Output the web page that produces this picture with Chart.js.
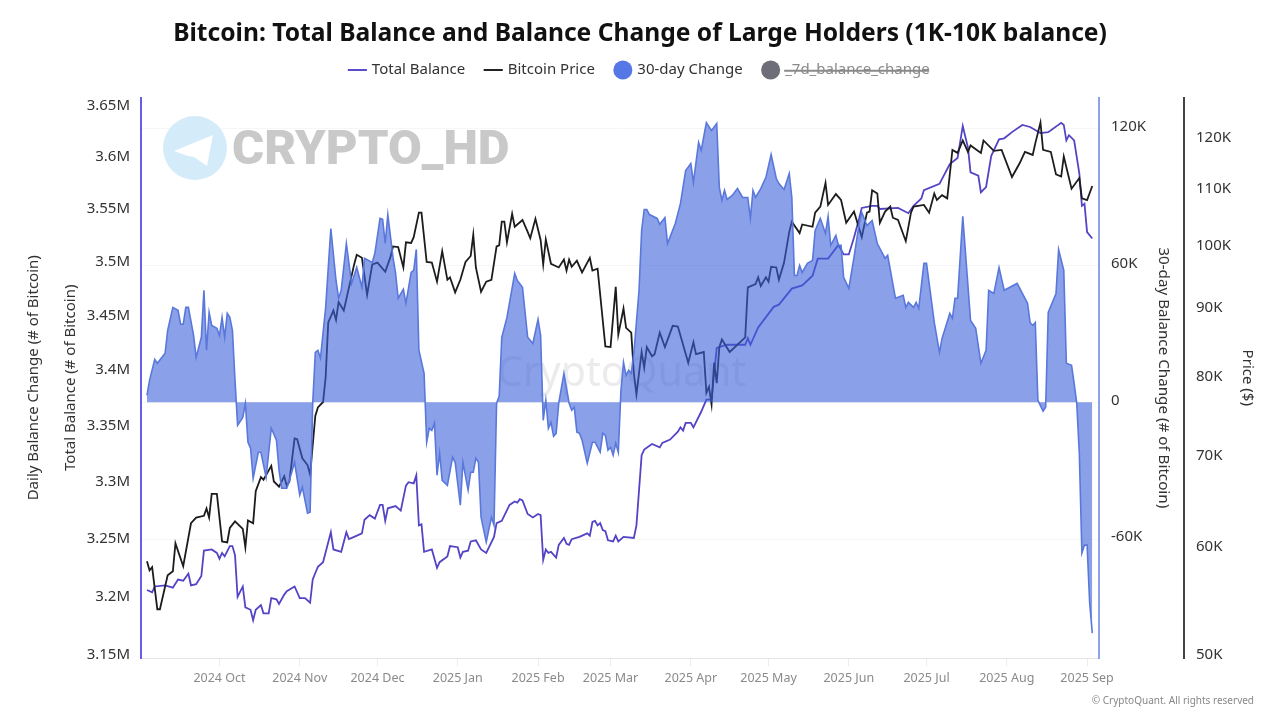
<!DOCTYPE html>
<html>
<head>
<meta charset="utf-8">
<title>Bitcoin: Total Balance and Balance Change of Large Holders</title>
<script src="https://cdn.jsdelivr.net/npm/chart.js@4"></script>
<style>
    body { margin: 0; background: #ffffff; }
    canvas { display: block; }
</style>
</head>
<body>
<canvas id="chart" width="1280" height="720"></canvas>
<script>
// x values are days counted from 2024-09-01

const monthDays = [30, 61, 91, 122, 153, 181, 212, 242, 273, 303, 334, 365];
const monthLabels = ['2024 Oct', '2024 Nov', '2024 Dec', '2025 Jan', '2025 Feb', '2025 Mar', '2025 Apr', '2025 May', '2025 Jun', '2025 Jul', '2025 Aug', '2025 Sep'];

const balanceTicks = [3.15, 3.2, 3.25, 3.3, 3.35, 3.4, 3.45, 3.5, 3.55, 3.6, 3.65];
const changeTicks = [-60, 0, 60, 120];
const priceTicks = [50, 60, 70, 80, 90, 100, 110, 120];

// Total Balance, millions of BTC
const balanceDays = [2, 4, 5, 9, 12, 14, 16, 18, 19, 21, 23, 24, 27, 29, 30, 31, 32, 34, 35, 36, 37, 39, 40, 42, 43, 44, 46, 47, 49, 50, 52, 53, 55, 56, 59, 61, 63, 65, 66, 68, 70, 73, 74, 77, 79, 80, 82, 85, 86, 88, 90, 92, 93, 94, 95, 98, 100, 102, 103, 105, 106, 107, 108, 109, 112, 114, 115, 118, 119, 122, 123, 124, 126, 127, 129, 131, 133, 136, 137, 139, 142, 144, 145, 146, 147, 149, 151, 153, 154, 155, 156, 157, 158, 160, 161, 163, 164, 165, 166, 169, 172, 173, 174, 175, 176, 177, 178, 179, 180, 182, 183, 184, 186, 190, 191, 193, 194, 197, 200, 201, 204, 207, 208, 209, 210, 212, 213, 216, 218, 220, 222, 226, 233, 234, 235, 238, 244, 246, 251, 255, 259, 261, 265, 269, 271, 273, 275, 277, 278, 282, 284, 285, 292, 296, 298, 301, 302, 308, 312, 315, 317, 319, 320, 323, 324, 326, 328, 331, 333, 336, 340, 343, 347, 350, 355, 356, 357, 358, 360, 362, 363, 364, 365, 367];
const balanceValues = [3.208, 3.206, 3.211, 3.212, 3.21, 3.217, 3.216, 3.222, 3.212, 3.213, 3.22, 3.242, 3.243, 3.24, 3.235, 3.24, 3.237, 3.246, 3.246, 3.238, 3.202, 3.211, 3.193, 3.191, 3.182, 3.191, 3.195, 3.188, 3.188, 3.201, 3.2, 3.196, 3.204, 3.207, 3.211, 3.201, 3.201, 3.197, 3.217, 3.228, 3.232, 3.258, 3.243, 3.241, 3.258, 3.252, 3.254, 3.257, 3.269, 3.273, 3.27, 3.282, 3.282, 3.268, 3.279, 3.281, 3.277, 3.299, 3.302, 3.301, 3.308, 3.264, 3.265, 3.241, 3.243, 3.227, 3.232, 3.237, 3.246, 3.245, 3.236, 3.241, 3.242, 3.25, 3.251, 3.243, 3.24, 3.254, 3.266, 3.268, 3.282, 3.285, 3.284, 3.287, 3.286, 3.274, 3.271, 3.274, 3.273, 3.234, 3.243, 3.24, 3.241, 3.236, 3.247, 3.253, 3.248, 3.247, 3.252, 3.254, 3.257, 3.255, 3.267, 3.268, 3.264, 3.266, 3.26, 3.259, 3.251, 3.25, 3.255, 3.25, 3.254, 3.253, 3.264, 3.326, 3.331, 3.336, 3.333, 3.337, 3.34, 3.347, 3.351, 3.348, 3.355, 3.355, 3.351, 3.365, 3.376, 3.376, 3.423, 3.426, 3.426, 3.432, 3.426, 3.442, 3.461, 3.463, 3.478, 3.481, 3.49, 3.506, 3.506, 3.519, 3.51, 3.51, 3.526, 3.544, 3.554, 3.556, 3.556, 3.553, 3.554, 3.549, 3.556, 3.563, 3.571, 3.577, 3.596, 3.602, 3.633, 3.612, 3.588, 3.585, 3.569, 3.574, 3.604, 3.62, 3.621, 3.627, 3.634, 3.632, 3.626, 3.627, 3.636, 3.634, 3.619, 3.624, 3.619, 3.587, 3.556, 3.558, 3.531, 3.525];

// Bitcoin Price, thousands of USD
const priceDays = [2, 3, 4, 6, 7, 10, 12, 13, 16, 19, 21, 24, 25, 26, 27, 29, 31, 33, 34, 36, 39, 40, 41, 43, 44, 46, 47, 50, 51, 53, 55, 56, 57, 59, 60, 62, 64, 65, 67, 68, 70, 71, 72, 74, 75, 76, 78, 82, 83, 85, 87, 89, 91, 94, 96, 97, 99, 101, 102, 104, 105, 107, 108, 110, 112, 114, 116, 118, 119, 121, 123, 125, 127, 128, 129, 131, 133, 135, 137, 138, 139, 140, 141, 143, 144, 147, 149, 150, 152, 154, 155, 156, 158, 161, 163, 164, 165, 166, 168, 170, 173, 174, 176, 179, 181, 183, 184, 186, 187, 189, 190, 191, 193, 194, 195, 197, 198, 200, 202, 205, 207, 211, 213, 214, 217, 218, 219, 220, 221, 222, 223, 224, 227, 233, 234, 237, 238, 239, 241, 242, 243, 245, 246, 248, 250, 251, 254, 255, 259, 260, 262, 264, 265, 268, 270, 272, 275, 278, 280, 281, 282, 284, 285, 287, 289, 290, 292, 295, 297, 298, 302, 304, 306, 307, 309, 311, 313, 315, 317, 319, 320, 324, 325, 329, 332, 336, 339, 341, 344, 345, 347, 348, 351, 353, 355, 356, 359, 362, 363, 365, 367];
const priceValues = [58.9, 58, 58.3, 54.3, 54.3, 57.5, 57.9, 60.7, 58.4, 62.8, 63.4, 63.6, 64.4, 63.4, 66, 66, 60.9, 60.8, 62.3, 63, 62.2, 60.3, 63.1, 62.8, 66.3, 67.9, 67.6, 69.2, 67.4, 66.8, 68, 66.9, 67.4, 72.5, 72.4, 70.1, 69.3, 68.2, 75.3, 76.4, 77.1, 80.4, 88.2, 90, 88.6, 91.3, 90, 97.3, 98.9, 98.4, 92.4, 97.3, 97.6, 96.1, 98.5, 100.3, 100.2, 96.8, 101, 100.9, 101.9, 106.2, 106.2, 97.7, 97.6, 94.5, 99.5, 94.8, 95.2, 92.8, 94.8, 97.7, 98.7, 102.3, 96.8, 92.9, 94.5, 94.8, 100.3, 100.5, 104.6, 104.6, 101, 106, 103.7, 104.9, 102.8, 101.7, 105.1, 101.4, 97.3, 101.5, 97.4, 96.8, 98.1, 96.3, 98.1, 96.9, 97.9, 96, 98.4, 96.3, 96.6, 84.7, 84.6, 93.7, 86.4, 90.3, 87.4, 86.7, 80.9, 78.1, 83.9, 81.7, 84.6, 83.3, 83.6, 86.7, 84.6, 87.7, 87.6, 82.4, 85.3, 83.6, 83.9, 78.3, 79.1, 76.8, 82.4, 79.6, 84.6, 85.7, 83.9, 86, 93.6, 94.1, 95.2, 93.8, 95.2, 94.5, 96.9, 96.8, 94.8, 97.6, 102.8, 104.6, 102.6, 104.1, 103.7, 106.2, 107.3, 111.7, 107.6, 109.6, 108.5, 104.4, 106.4, 101.9, 106.2, 106.4, 110.3, 109.7, 104.4, 106.4, 107.3, 105.3, 104.9, 101.2, 106.2, 107.3, 107.6, 106.2, 109.7, 108.5, 109.4, 108.8, 118.1, 117.5, 120, 117.7, 119, 117.5, 120, 117.9, 118.1, 112.8, 115.5, 117.7, 117.1, 119.4, 123.7, 118.1, 117.7, 113.3, 112.9, 116.8, 110.6, 112.6, 108.8, 108.5, 111.1];

// 30-day Change, thousands of BTC
const changeDays = [2, 3, 5, 6, 9, 10, 12, 14, 15, 16, 17, 18, 20, 21, 23, 24, 25, 26, 27, 29, 30, 31, 32, 33, 34, 35, 36, 37, 39, 40, 41, 42, 43, 45, 46, 48, 50, 52, 53, 54, 56, 57, 59, 61, 62, 64, 65, 66, 67, 68, 69, 71, 73, 75, 76, 77, 79, 81, 83, 85, 86, 89, 90, 92, 93, 94, 95, 97, 98, 99, 101, 102, 104, 105, 106, 107, 109, 110, 111, 112, 113, 114, 115, 116, 118, 120, 121, 123, 124, 126, 127, 128, 129, 130, 131, 133, 135, 136, 137, 138, 139, 141, 144, 145, 147, 149, 151, 153, 154, 155, 156, 157, 158, 159, 160, 161, 163, 165, 166, 167, 168, 169, 170, 172, 174, 175, 177, 178, 179, 180, 181, 182, 183, 184, 185, 186, 187, 188, 189, 190, 192, 193, 194, 195, 196, 199, 200, 202, 203, 206, 208, 210, 212, 213, 215, 216, 218, 220, 222, 223, 224, 225, 226, 228, 230, 232, 234, 235, 236, 237, 239, 241, 243, 245, 246, 248, 250, 251, 252, 253, 254, 255, 257, 259, 260, 262, 264, 265, 266, 268, 269, 270, 271, 273, 275, 277, 278, 280, 282, 284, 287, 288, 291, 294, 295, 296, 298, 299, 300, 302, 303, 306, 308, 309, 312, 313, 314, 315, 317, 320, 322, 324, 326, 327, 329, 331, 333, 338, 342, 343, 344, 345, 346, 348, 349, 350, 353, 354, 356, 357, 359, 360, 361, 362, 363, 364, 365, 366, 367];
const changeValues = [3, 9.6, 18.8, 17.1, 21.5, 31.5, 41.6, 40.3, 34.2, 34.2, 41.6, 41.6, 29.3, 19.7, 28.5, 49.1, 22.8, 39.4, 33.7, 32.4, 29.3, 37.2, 28.5, 39, 37.2, 31.5, 9.6, -10.1, -6.6, -0.5, -17.5, -20.1, -33.3, -21.9, -21.9, -32.9, -11.4, -16.6, -29.8, -37.7, -37.7, -34.2, -26.3, -40.7, -37.2, -48.6, -48.2, -0.4, 21.9, 22.8, 19.3, 41.6, 76.2, 53.4, 45.6, 49.1, 69.6, 52.1, 59.1, 50.4, 63.1, 61.3, 65.3, 80.6, 80.2, 69.6, 82.3, 63.5, 56.5, 45.6, 49.5, 43.4, 56.9, 57.8, 67, 22.8, 12.7, -17.5, -11.4, -12.3, -9.2, -32, -22.3, -34.2, -36.4, -24.1, -26.3, -45.1, -26.3, -38.5, -30.7, -30.7, -24.5, -26.3, -50.4, -61.3, -50.4, -53.9, -0.4, 2.6, 28.5, 37.2, 56.5, 53.4, 50.4, 28.5, 25.8, 36.4, 29.3, -7.9, 0.9, -11.4, -8.8, -14.9, -13.6, -0.4, 12.7, -0.4, -3.5, -2.2, -13.1, -13.6, -16.6, -26.7, -17.5, -17.5, -21.9, -13.6, -14.5, -21, -19.7, -23.2, -18, -21.9, 5, 17.5, 11.8, 14, 12.7, 21.5, 49.1, 75.3, 84.5, 84.5, 82.3, 80.6, 78, 81, 69.6, 78.4, 87.2, 101.6, 104.7, 96.4, 113.9, 110.4, 122.6, 119.1, 122.2, 94.2, 88.5, 92.9, 88.9, 90.7, 93.7, 89.8, 89.8, 80.6, 92.9, 89.8, 93.7, 98.6, 108.6, 98.1, 95.9, 93.3, 100.3, 89.8, 55.6, 55.6, 60, 56.9, 60.9, 62.2, 75.3, 80.6, 74, 81.5, 68.8, 73.1, 68.8, 68.8, 54.8, 49.9, 63.5, 78.4, 83.2, 77.5, 79.7, 69.6, 63.1, 64.4, 45.6, 46.9, 41.6, 43.8, 41.6, 43.8, 41.2, 60.9, 60.9, 35, 21.9, 28, 39, 36.8, 45.6, 45.6, 81.5, 35.9, 32.4, 17.1, 22.8, 49.1, 47.7, 59.1, 49.1, 52.1, 43.4, 35, 33.7, 35, 0.9, -3.9, -2.2, 39.4, 47.7, 67, 57.8, 17.1, 16.2, 8.3, -0.4, -22.3, -66.1, -62.6, -62.6, -88, -101.2];

// hidden in the legend, nothing drawn
const sevenDayChange = [];

const FONT = '"Noto Sans", "Open Sans", sans-serif';

function toPoints(days, values) {
    return days.map((day, i) => ({ x: day, y: values[i] }));
}

function setTicks(values) {
    return function(scale) {
        scale.ticks = values.map(v => ({ value: v }));
    };
}

function fixWidth(width) {
    return function(scale) {
        scale.width = width;
    };
}

// keeps some room between the legend and the plot
const legendGap = {
    id: 'legendGap',
    beforeLayout(chart) {
        const legend = chart.legend;
        if (legend.gapAdded) {
            return;
        }
        const fit = legend.fit;
        legend.fit = function() {
            fit.call(this);
            this.height += 10;
        };
        legend.gapAdded = true;
    }
};

// watermarks behind the data
const watermarks = {
    id: 'watermarks',
    beforeDatasetsDraw(chart) {
        const ctx = chart.ctx;
        ctx.save();
        ctx.fillStyle = '#d4ecf9';
        ctx.beginPath();
        ctx.arc(195, 148, 32, 0, Math.PI * 2);
        ctx.fill();
        ctx.fillStyle = '#ffffff';
        ctx.beginPath();
        ctx.moveTo(174, 151);
        ctx.lineTo(213, 135);
        ctx.lineTo(207, 166);
        ctx.lineTo(194, 157);
        ctx.lineTo(188, 156);
        ctx.closePath();
        ctx.fill();
        ctx.textBaseline = 'middle';
        ctx.textAlign = 'left';
        ctx.fillStyle = '#c9c9c9';
        ctx.font = '900 49px Roboto, sans-serif';
        ctx.fillText('CRYPTO_HD', 232, 152);
        ctx.fillStyle = 'rgba(170, 170, 180, 0.24)';
        ctx.font = '41px ' + FONT;
        ctx.fillText('CryptoQuant', 497, 374);
        ctx.restore();
    },
    afterDraw(chart) {
        const ctx = chart.ctx;
        ctx.save();
        ctx.fillStyle = '#888888';
        ctx.font = '10px ' + FONT;
        ctx.textAlign = 'right';
        ctx.textBaseline = 'middle';
        ctx.fillText('© CryptoQuant. All rights reserved', 1254, 701);
        ctx.restore();
    }
};

function legendItems(chart) {
    const styles = [
        { pointStyle: 'line', color: '#5b4cc9' },
        { pointStyle: 'line', color: '#222222' },
        { pointStyle: 'circle', color: '#5578e6' },
        { pointStyle: 'circle', color: '#6e6e78' }
    ];
    return chart.data.datasets.map((dataset, i) => ({
        text: dataset.label,
        datasetIndex: i,
        hidden: !chart.isDatasetVisible(i),
        pointStyle: styles[i].pointStyle,
        fillStyle: styles[i].color,
        strokeStyle: styles[i].color,
        lineWidth: styles[i].pointStyle === 'line' ? 2 : 0,
        fontColor: i === 3 ? '#8a8a8a' : '#333333'
    }));
}

function initializeChart() {
    const ctx = document.getElementById('chart').getContext('2d');
    new Chart(ctx, {
        type: 'line',
        data: {
            datasets: [
                {
                    label: 'Total Balance',
                    data: toPoints(balanceDays, balanceValues),
                    yAxisID: 'yBalance',
                    borderColor: '#5344c6',
                    borderWidth: 1.8,
                    order: 2
                },
                {
                    label: 'Bitcoin Price',
                    data: toPoints(priceDays, priceValues),
                    yAxisID: 'yPrice',
                    borderColor: '#1c1c1c',
                    borderWidth: 1.8,
                    order: 1
                },
                {
                    // the fill sits on top of both lines, like in the original
                    label: '30-day Change',
                    data: toPoints(changeDays, changeValues),
                    yAxisID: 'yChange',
                    borderColor: '#5a78dc',
                    borderWidth: 1.6,
                    backgroundColor: 'rgba(60, 97, 217, 0.6)',
                    fill: 'origin',
                    order: 0
                },
                {
                    label: '_7d_balance_change',
                    data: sevenDayChange,
                    yAxisID: 'yChange',
                    hidden: true,
                    order: 3
                }
            ]
        },
        options: {
            responsive: false,
            animation: false,
            elements: { point: { radius: 0 }, line: { tension: 0 } },
            layout: { autoPadding: false, padding: 0 },
            plugins: {
                tooltip: { enabled: false },
                title: {
                    display: true,
                    text: 'Bitcoin: Total Balance and Balance Change of Large Holders (1K-10K balance)',
                    color: '#111111',
                    font: { family: FONT, size: 24.6, weight: 'bold' },
                    padding: { top: 19, bottom: -7 }
                },
                legend: {
                    display: true,
                    position: 'top',
                    labels: {
                        usePointStyle: true,
                        boxWidth: 14,
                        boxHeight: 13.5,
                        padding: 21,
                        font: { family: FONT, size: 15 },
                        generateLabels: legendItems
                    }
                }
            },
            scales: {
                x: {
                    type: 'linear',
                    min: -0.3,
                    max: 369.6,
                    afterFit: function(scale) { scale.height = 62; },
                    afterBuildTicks: setTicks(monthDays),
                    border: { color: '#e4e4e4', width: 1 },
                    grid: { drawOnChartArea: false, color: '#ececec', tickLength: 8 },
                    ticks: {
                        autoSkip: false,
                        maxRotation: 0,
                        padding: 5,
                        color: '#8a8a8a',
                        font: { family: FONT, size: 12.5 },
                        callback: function(value) { return monthLabels[monthDays.indexOf(value)]; }
                    }
                },
                yBalance: {
                    type: 'logarithmic',
                    position: 'left',
                    min: 3.15,
                    max: 3.6608,
                    afterFit: fixWidth(86),
                    afterBuildTicks: setTicks(balanceTicks),
                    border: { color: '#6a5ce6', width: 2 },
                    grid: { drawOnChartArea: false, drawTicks: false },
                    ticks: {
                        autoSkip: false,
                        padding: 11,
                        labelOffset: -3,
                        color: '#333333',
                        font: { family: FONT, size: 15 },
                        callback: function(value) { return value + 'M'; }
                    },
                    title: {
                        display: true,
                        text: 'Total Balance (# of Bitcoin)',
                        color: '#333333',
                        font: { family: FONT, size: 15 },
                        padding: { top: 7, bottom: 0 }
                    }
                },
                yDaily: {
                    position: 'left',
                    afterFit: fixWidth(55),
                    min: 0,
                    max: 1,
                    border: { display: false },
                    grid: { display: false },
                    ticks: { display: false },
                    title: {
                        display: true,
                        text: 'Daily Balance Change (# of Bitcoin)',
                        color: '#333333',
                        font: { family: FONT, size: 15 },
                        padding: { top: 25, bottom: 0 }
                    }
                },
                yChange: {
                    position: 'right',
                    min: -112.1,
                    max: 133.6,
                    afterFit: fixWidth(85),
                    afterBuildTicks: setTicks(changeTicks),
                    border: { color: '#8ea2ea', width: 2 },
                    grid: { color: '#f6f6f6', drawTicks: false },
                    ticks: {
                        autoSkip: false,
                        padding: 12,
                        labelOffset: -2,
                        color: '#333333',
                        font: { family: FONT, size: 15 },
                        callback: function(value) { return value === 0 ? '0' : value + 'K'; }
                    },
                    title: {
                        display: true,
                        text: '30-day Balance Change (# of Bitcoin)',
                        color: '#333333',
                        font: { family: FONT, size: 15.2 },
                        padding: { top: 12, bottom: 0 }
                    }
                },
                yPrice: {
                    type: 'logarithmic',
                    position: 'right',
                    min: 50,
                    max: 129.04,
                    afterFit: fixWidth(96),
                    afterBuildTicks: setTicks(priceTicks),
                    border: { color: '#444444', width: 2 },
                    grid: { drawOnChartArea: false, drawTicks: false },
                    ticks: {
                        autoSkip: false,
                        padding: 12,
                        labelOffset: -3,
                        color: '#333333',
                        font: { family: FONT, size: 15 },
                        callback: function(value) { return value + 'K'; }
                    },
                    title: {
                        display: true,
                        text: 'Price ($)',
                        color: '#333333',
                        font: { family: FONT, size: 15 },
                        padding: { top: 24, bottom: 0 }
                    }
                }
            }
        },
        plugins: [legendGap, watermarks]
    });
}

document.addEventListener('DOMContentLoaded', initializeChart);
</script>
</body>
</html>
